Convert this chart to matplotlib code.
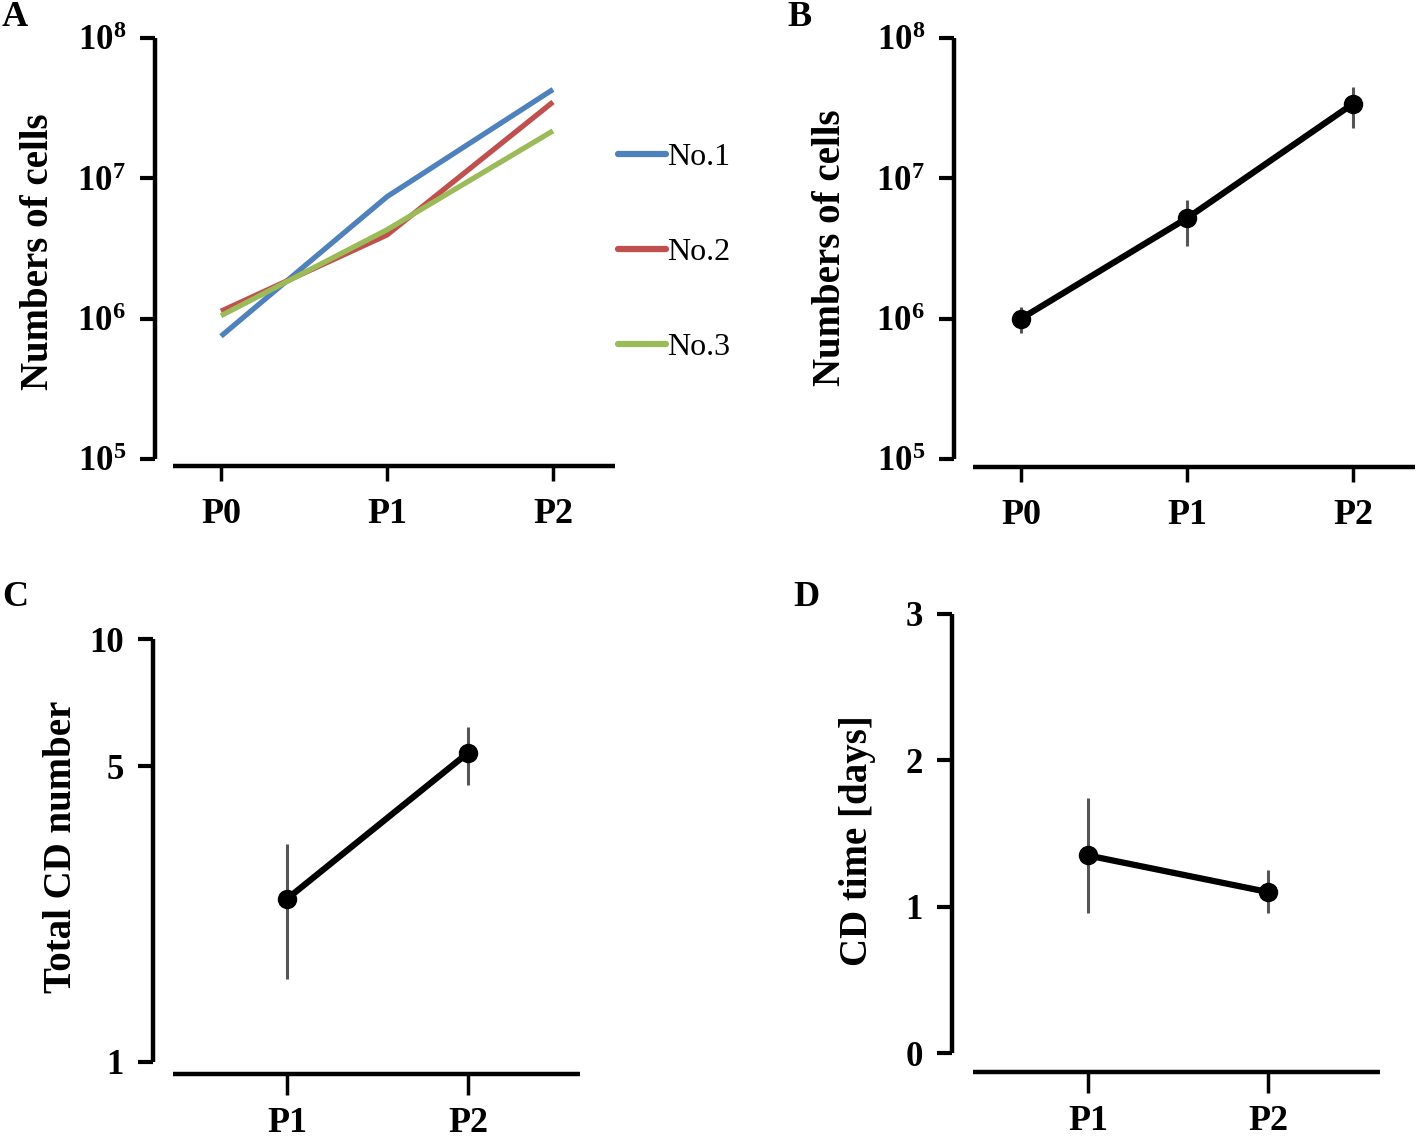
import numpy as np
import matplotlib
matplotlib.use("Agg")
import matplotlib.pyplot as plt
from matplotlib.ticker import NullFormatter, NullLocator

plt.rcParams["font.family"] = ["Liberation Serif", "DejaVu Serif"]
plt.rcParams["font.weight"] = "bold"
plt.rcParams["axes.labelweight"] = "bold"
plt.rcParams["mathtext.fontset"] = "custom"
plt.rcParams["mathtext.rm"] = "Liberation Serif:bold"
plt.rcParams["mathtext.bf"] = "Liberation Serif:bold"

# panel A: three samples
passages_a = ["P0", "P1", "P2"]
sample_names = ["No.1", "No.2", "No.3"]
sample_colors = ["#4F81BD", "#C0504D", "#9BBB59"]
cells_no1 = [7.5e5, 7.4e6, 4.3e7]
cells_no2 = [1.13e6, 3.95e6, 3.5e7]
cells_no3 = [1.05e6, 4.3e6, 2.18e7]

# panel B: mean with range
cells_mean = [1.0e6, 5.2e6, 3.4e7]
cells_low = [7.9e5, 3.3e6, 2.29e7]
cells_high = [1.21e6, 7.0e6, 4.5e7]

# panel C / D
passages_cd = ["P1", "P2"]
cd_number_mean = [2.43, 5.38]
cd_number_low = [1.57, 4.52]
cd_number_high = [3.28, 6.19]
cd_time_mean = [1.35, 1.10]
cd_time_low = [0.96, 0.96]
cd_time_high = [1.74, 1.25]

log_ticks = [1e5, 1e6, 1e7, 1e8]
log_labels = [r"$\mathbf{10^{5}}$", r"$\mathbf{10^{6}}$", r"$\mathbf{10^{7}}$", r"$\mathbf{10^{8}}$"]
cd_number_ticks = [1, 5, 10]
cd_time_ticks = [0, 1, 2, 3]

W, H = 1424, 1140
fig = plt.figure(figsize=(W / 100, H / 100), dpi=100)


def make_axes(left, right, top, bottom):
    return fig.add_axes([left / W, 1 - bottom / H, (right - left) / W, (bottom - top) / H])


def setup_x(ax, tick_px, left_px, right_px, spine_px, first):
    step = tick_px[1] - tick_px[0]
    lo = first - (tick_px[0] - left_px) / step
    hi = first + (right_px - tick_px[0]) / step
    sp = first - (tick_px[0] - spine_px) / step
    ax.set_xlim(lo, hi)
    ax.spines["bottom"].set_bounds(sp, hi)


def outer_style(ax, y_off, xtick_len, xpad):
    ax.spines[["top", "right"]].set_visible(False)
    for s in ["left", "bottom"]:
        ax.spines[s].set_linewidth(3.2)
        ax.spines[s].set_capstyle("butt")
    ax.spines["bottom"].set_position(("outward", y_off * 0.72))
    ax.yaxis.set_minor_locator(NullLocator())
    ax.yaxis.set_minor_formatter(NullFormatter())
    ax.tick_params(axis="y", length=11, width=3, pad=10, labelsize=25)
    ax.tick_params(axis="x", length=xtick_len, width=2.5, pad=xpad, labelsize=26)


def ylabel(ax, text, cx, cy):
    ax.set_ylabel(text, fontsize=28, fontweight="bold", va="center")
    ax.yaxis.set_label_coords(cx, cy)


# ---- A ----
axA = make_axes(155, 615, 38, 459)
xa = np.arange(len(passages_a))
for vals, name, col in zip([cells_no1, cells_no2, cells_no3], sample_names, sample_colors):
    axA.plot(xa, vals, color=col, lw=3.8, label=name, solid_capstyle="butt")
axA.set_yscale("log")
axA.set_ylim(1e5, 1e8)
axA.set_yticks(log_ticks, log_labels)
axA.set_xticks(xa, passages_a)
setup_x(axA, [221, 387], 155, 615, 173, 0)
outer_style(axA, 7, 11, 12)
ylabel(axA, "Numbers of cells", (38 - 155) / 460, (459 - 252) / 421)
leg = axA.legend(loc="upper left", bbox_to_anchor=(618 / W, 1 - 143 / H),
                 bbox_transform=fig.transFigure, frameon=False, borderpad=0,
                 borderaxespad=0, handlelength=1.5, handletextpad=0.05,
                 labelspacing=2.05, prop={"family": "Liberation Serif", "weight": "normal", "size": 23})
for line in leg.get_lines():
    line.set_linewidth(4.5)
    line.set_solid_capstyle("round")

# ---- B ----
axB = make_axes(954, 1415, 38, 459)
xb = np.arange(len(passages_a))
yerr_b = [np.array(cells_mean) - np.array(cells_low), np.array(cells_high) - np.array(cells_mean)]
axB.errorbar(xb, cells_mean, yerr=yerr_b, fmt="none", ecolor="#555555", elinewidth=2.2, capsize=0, zorder=2)
axB.plot(xb, cells_mean, color="black", lw=4.5, marker="o", ms=13, zorder=3)
axB.set_yscale("log")
axB.set_ylim(1e5, 1e8)
axB.set_yticks(log_ticks, log_labels)
axB.set_xticks(xb, passages_a)
setup_x(axB, [1021, 1187], 954, 1415, 973, 0)
outer_style(axB, 8, 11, 12)
ylabel(axB, "Numbers of cells", (830 - 954) / 461, (459 - 248) / 421)

# ---- C ----
axC = make_axes(153, 580, 639, 1062)
xc = np.arange(1, len(passages_cd) + 1)
yerr_c = [np.array(cd_number_mean) - np.array(cd_number_low), np.array(cd_number_high) - np.array(cd_number_mean)]
axC.errorbar(xc, cd_number_mean, yerr=yerr_c, fmt="none", ecolor="#555555", elinewidth=2.2, capsize=0, zorder=2)
axC.plot(xc, cd_number_mean, color="black", lw=4.5, marker="o", ms=13, zorder=3)
axC.set_yscale("log")
axC.set_ylim(1, 10)
axC.set_yticks(cd_number_ticks, [str(t) for t in cd_number_ticks])
axC.set_xticks(xc, passages_cd)
setup_x(axC, [287, 468], 153, 580, 173, 1)
outer_style(axC, 12, 15, 9)
ylabel(axC, "Total CD number", (62 - 153) / 427, (1062 - 847) / 423)

# ---- D ----
axD = make_axes(952, 1380, 614, 1053)
xd = np.arange(1, len(passages_cd) + 1)
yerr_d = [np.array(cd_time_mean) - np.array(cd_time_low), np.array(cd_time_high) - np.array(cd_time_mean)]
axD.errorbar(xd, cd_time_mean, yerr=yerr_d, fmt="none", ecolor="#555555", elinewidth=2.2, capsize=0, zorder=2)
axD.plot(xd, cd_time_mean, color="black", lw=4.5, marker="o", ms=13, zorder=3)
axD.set_ylim(0, 3)
axD.set_yticks(cd_time_ticks, [str(t) for t in cd_time_ticks])
axD.set_xticks(xd, passages_cd)
setup_x(axD, [1088, 1268], 952, 1380, 973, 1)
outer_style(axD, 19, 15, 9)
ylabel(axD, "CD time [days]", (857 - 952) / 428, (1053 - 841) / 439)

for letter, px, py in [("A", 15, 18), ("B", 800, 18), ("C", 15, 598), ("D", 806, 598)]:
    fig.text(px / W, 1 - py / H, letter, fontsize=26, fontweight="bold", ha="center", va="center")

fig.savefig("out.png", dpi=100)
